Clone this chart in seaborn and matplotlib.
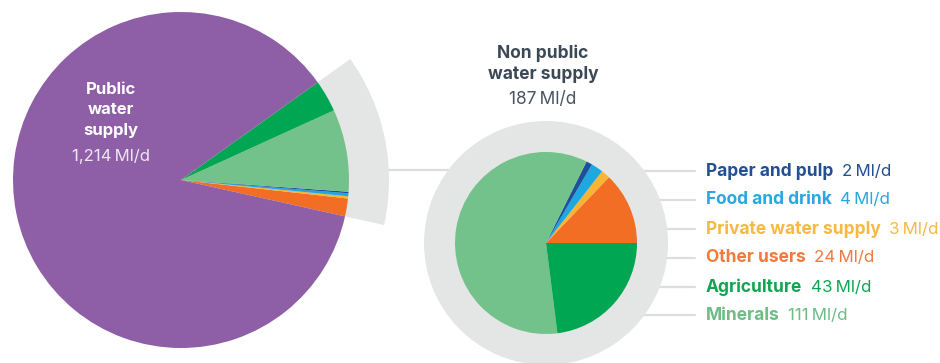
import matplotlib
matplotlib.use("Agg")
import matplotlib.pyplot as plt
import seaborn as sns

# Water abstraction, megalitres per day
public_label = "Public\nwater\nsupply"
public_value = 1214
nonpublic_label = "Non public\nwater supply"
nonpublic_value = 187

categories = ["Other users", "Private water supply", "Food and drink",
              "Paper and pulp", "Minerals", "Agriculture"]
values = [24, 3, 4, 2, 111, 43]
colors = ["#f26e24", "#f8b433", "#1ea8e2", "#1d4f9b", "#74c28b", "#00a651"]
text_colors = ["#f07a3c", "#f5b944", "#2aa6e0", "#234f93", "#6dbd84", "#11a551"]

# legend order, top to bottom
legend_order = ["Paper and pulp", "Food and drink", "Private water supply",
                "Other users", "Agriculture", "Minerals"]

purple = "#8e5ea6"
grey = "#e4e5e5"
line_grey = "#dcdede"

sns.set_theme(style="white")
plt.rcParams["font.family"] = ["Inter", "DejaVu Sans"]

W, H = 940, 363
fig = plt.figure(figsize=(W / 100, H / 100), dpi=100)
ax = fig.add_axes([0, 0, 1, 1])

def py(y):
    """Convert a top-down pixel row to the y-up data coordinate."""
    return H - y

left_c = (181, py(180))
left_r = 168
right_c = (546, py(243))
right_r = 91
start = -12.5

# grey highlight band behind the non public wedges
ax.pie([nonpublic_value, public_value], colors=[grey, "none"], radius=208,
       center=left_c, startangle=start, counterclock=True, frame=True,
       wedgeprops=dict(linewidth=0), normalize=True)

# main pie: non public components followed by public supply
ax.pie(values + [public_value], colors=colors + [purple], radius=left_r,
       center=left_c, startangle=start, counterclock=True, frame=True,
       wedgeprops=dict(linewidth=0))

# connector from the band to the breakdown pie
ax.plot([388, right_c[0]], [py(170), py(170)], color=line_grey, lw=1.6, zorder=0)

# grey ring and breakdown pie
ax.pie([1], colors=[grey], radius=122, center=right_c, frame=True,
       wedgeprops=dict(linewidth=0))
ax.pie(values, colors=colors, radius=right_r, center=right_c, startangle=0,
       counterclock=True, frame=True, wedgeprops=dict(linewidth=0))

# legend rows with leader lines
row_y = [171, 200, 229, 258, 287, 315]
for name, yy in zip(legend_order, row_y):
    i = categories.index(name)
    ax.plot([right_c[0], 695], [py(yy), py(yy)], color=line_grey, lw=1.6, zorder=0)
    t = ax.text(706, py(yy), name, color=text_colors[i], fontsize=12.5,
                fontweight="bold", ha="left", va="center")
    ax.annotate(f"{values[i]}\u2009Ml/d", xycoords=t, xy=(1, 0.5),
                xytext=(6, 0), textcoords="offset points", ha="left",
                va="center", color=text_colors[i], fontsize=12.2)

# labels
ax.text(111, py(110), public_label, color="white", fontsize=12,
        fontweight="bold", ha="center", va="center", linespacing=1.42)
ax.text(111, py(157), f"{public_value:,}\u2009Ml/d", color="white", alpha=0.85,
        fontsize=12, ha="center", va="center")
ax.text(543, py(64), nonpublic_label, color="#3b4856", fontsize=12.5,
        fontweight="bold", ha="center", va="center", linespacing=1.3)
ax.text(543, py(100), f"{nonpublic_value}\u2009Ml/d", color="#4a5562",
        fontsize=12.5, ha="center", va="center")

ax.set_xlim(0, W)
ax.set_ylim(0, H)
ax.set_aspect("equal")
ax.axis("off")
fig.savefig("out.png", dpi=100, facecolor="white")
